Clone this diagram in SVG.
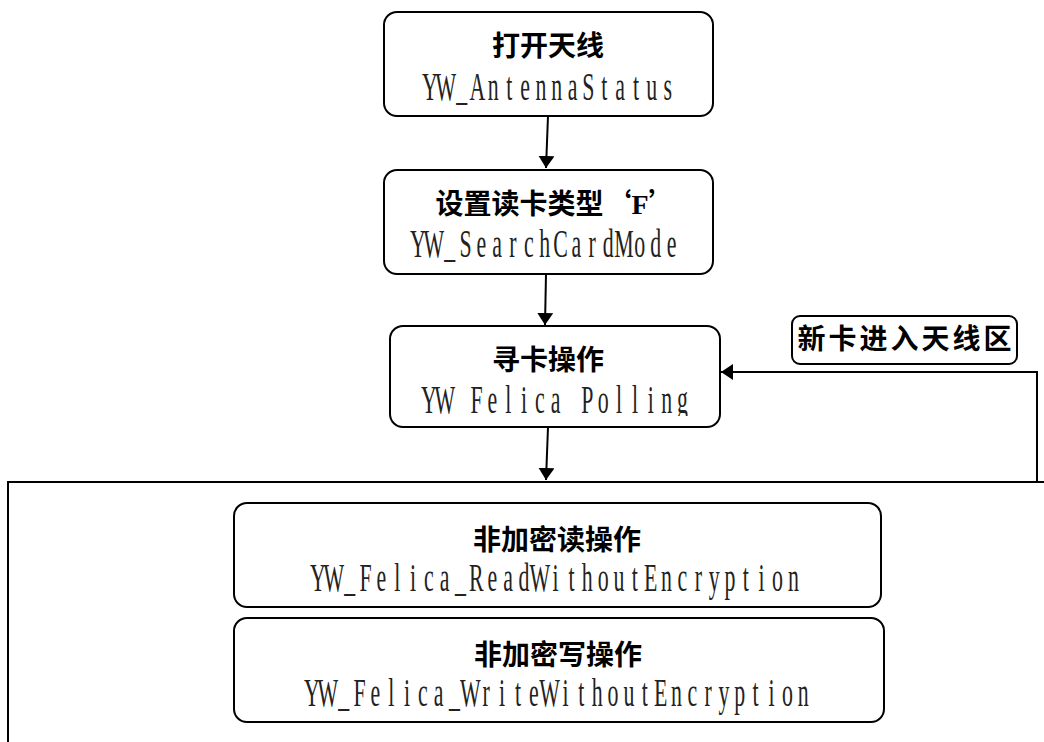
<svg xmlns="http://www.w3.org/2000/svg" width="1044" height="742" viewBox="0 0 1044 742">
<style>
.box{fill:#fff;stroke:#000;stroke-width:2}
.cn{font-family:"Noto Sans CJK SC","Liberation Sans",sans-serif;font-weight:bold;font-size:28px;text-anchor:middle;fill:#000}
.en{font-family:"Liberation Serif",serif;font-size:39px;fill:#222;text-anchor:middle}
.ln{fill:none;stroke:#000;stroke-width:2}
</style>
<defs>
<marker id="ah" viewBox="0 0 12 16" refX="12" refY="8" markerWidth="12" markerHeight="16" markerUnits="userSpaceOnUse" orient="auto">
<path d="M0,0 L12,8 L0,16 Z" fill="#000"/>
</marker>
<clipPath id="clip3"><rect x="390" y="326" width="330" height="90"/></clipPath>
</defs>
<rect width="1044" height="742" fill="#fff"/>
<g id="container">
<path class="ln" d="M8,742 V482 H1044"/>
</g>
<g id="n1">
<rect class="box" x="384" y="12" width="329" height="104" rx="13"/>
<text class="cn" x="548" y="56">打开天线</text>
<text class="en" transform="translate(422,100) scale(0.56,1)" x="14.15 42.45 70.75 99.05 127.35 155.65 183.95 212.25 240.55 268.85 297.15 325.45 353.75 382.05 410.35 438.65">YW_AntennaStatus</text>
</g>
<g id="n2">
<rect class="box" x="384" y="170" width="329" height="104" rx="13"/>
<text class="cn" x="556" y="214">设置读卡类型‘<tspan font-family="Liberation Serif,serif">F</tspan>’</text>
<text class="en" transform="translate(410,257) scale(0.56,1)" x="14.15 42.45 70.75 99.05 127.35 155.65 183.95 212.25 240.55 268.85 297.15 325.45 353.75 382.05 410.35 438.65 466.95">YW_SearchCardMode</text>
</g>
<g id="n3">
<rect class="box" x="390" y="326" width="330" height="101" rx="13"/>
<text class="cn" x="548" y="370">寻卡操作</text>
<g clip-path="url(#clip3)">
<text class="en" transform="translate(421,413) scale(0.56,1)" x="14.15 42.45 70.75 99.05 127.35 155.65 183.95 212.25 240.55 268.85 297.15 325.45 353.75 382.05 410.35 438.65 466.95">YW Felica Polling</text>
</g>
</g>
<g id="n4">
<rect class="box" x="792" y="316" width="225" height="48" rx="8"/>
<text class="cn" x="906" y="349" font-size="23" letter-spacing="3">新卡进入天线区</text>
</g>
<g id="n5">
<rect class="box" x="234" y="503" width="647" height="104" rx="13"/>
<text class="cn" x="557" y="550">非加密读操作</text>
<text class="en" transform="translate(310,591) scale(0.56,1)" x="14.15 42.45 70.75 99.05 127.35 155.65 183.95 212.25 240.55 268.85 297.15 325.45 353.75 382.05 410.35 438.65 466.95 495.25 523.55 551.85 580.15 608.45 636.75 665.05 693.35 721.65 749.95 778.25 806.55 834.85 863.15">YW_Felica_ReadWithoutEncryption</text>
</g>
<g id="n6">
<rect class="box" x="234" y="618" width="650" height="104" rx="13"/>
<text class="cn" x="558" y="665">非加密写操作</text>
<text class="en" transform="translate(304,706) scale(0.56,1)" x="14.15 42.45 70.75 99.05 127.35 155.65 183.95 212.25 240.55 268.85 297.15 325.45 353.75 382.05 410.35 438.65 466.95 495.25 523.55 551.85 580.15 608.45 636.75 665.05 693.35 721.65 749.95 778.25 806.55 834.85 863.15 891.45">YW_Felica_WriteWithoutEncryption</text>
</g>
<g id="connectors">
<path class="ln" d="M548,116 L546,168" marker-end="url(#ah)"/>
<path class="ln" d="M546,274 L545,325" marker-end="url(#ah)"/>
<path class="ln" d="M548,427 L546,480" marker-end="url(#ah)"/>
<path class="ln" d="M1037,482 V372 H721" marker-end="url(#ah)"/>
</g>
</svg>
